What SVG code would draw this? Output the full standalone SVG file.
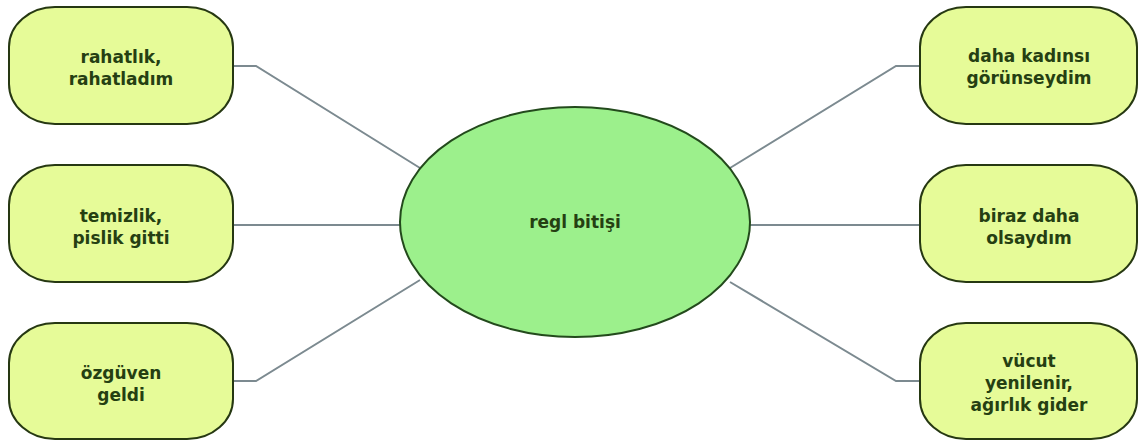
<svg xmlns="http://www.w3.org/2000/svg" width="1141" height="443" viewBox="0 0 1141 443">
<style>
.node{fill:#e6fb98;stroke:#263812;stroke-width:2}
.center{fill:#9cf08c;stroke:#234a1c;stroke-width:2}
.t{font-family:"DejaVu Sans",Verdana,sans-serif;font-weight:bold;font-size:17px;fill:#253f12;text-anchor:middle}
.c{fill:none;stroke:#7c8a90;stroke-width:2}
</style>
<rect width="1141" height="443" fill="#ffffff"/>
<g id="connectors">
<polyline class="c" points="233,66 256,66 420,168"/>
<polyline class="c" points="233,225 401,225"/>
<polyline class="c" points="233,381 256,381 420,280"/>
<polyline class="c" points="730,168 896,66 920,66"/>
<polyline class="c" points="750,225 920,225"/>
<polyline class="c" points="730,282 896,381 920,381"/>
</g>
<g id="center">
<ellipse class="center" cx="575" cy="222" rx="175" ry="115"/>
<text class="t" x="575" y="228">regl bitişi</text>
</g>
<g id="n1">
<rect class="node" x="9" y="7" width="224" height="117" rx="46" ry="40"/>
<text class="t" x="121" y="63">rahatlık,</text>
<text class="t" x="121" y="85">rahatladım</text>
</g>
<g id="n2">
<rect class="node" x="9" y="165" width="224" height="117" rx="46" ry="40"/>
<text class="t" x="121" y="222">temizlik,</text>
<text class="t" x="121" y="244">pislik gitti</text>
</g>
<g id="n3">
<rect class="node" x="9" y="323" width="224" height="116" rx="46" ry="40"/>
<text class="t" x="121" y="379">özgüven</text>
<text class="t" x="121" y="401">geldi</text>
</g>
<g id="n4">
<rect class="node" x="920" y="7" width="217" height="117" rx="46" ry="40"/>
<text class="t" x="1029" y="62">daha kadınsı</text>
<text class="t" x="1029" y="84">görünseydim</text>
</g>
<g id="n5">
<rect class="node" x="920" y="165" width="217" height="117" rx="46" ry="40"/>
<text class="t" x="1029" y="222">biraz daha</text>
<text class="t" x="1029" y="244">olsaydım</text>
</g>
<g id="n6">
<rect class="node" x="920" y="323" width="217" height="116" rx="46" ry="40"/>
<text class="t" x="1029" y="367">vücut</text>
<text class="t" x="1029" y="389">yenilenir,</text>
<text class="t" x="1029" y="411">ağırlık gider</text>
</g>
</svg>
